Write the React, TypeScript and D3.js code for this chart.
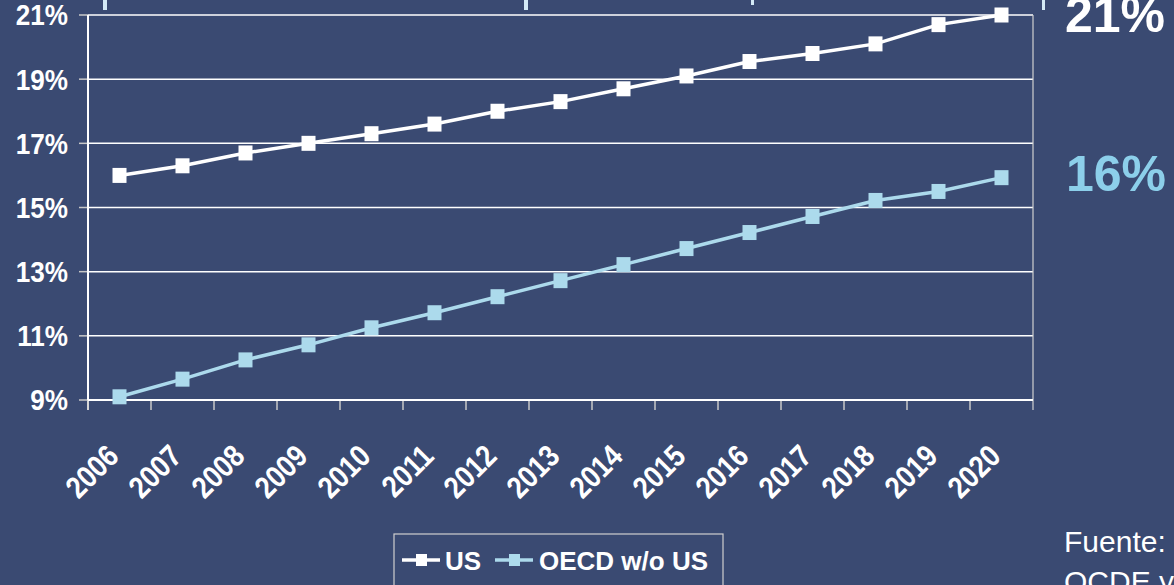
import React from 'react';
import * as d3 from 'd3';

const years = ['2006','2007','2008','2009','2010','2011','2012','2013','2014','2015','2016','2017','2018','2019','2020'];
const usValues = [16.0, 16.3, 16.7, 17.0, 17.3, 17.6, 18.0, 18.3, 18.7, 19.1, 19.55, 19.8, 20.1, 20.7, 21.0];
const oecdValues = [9.1, 9.65, 10.25, 10.72, 11.25, 11.72, 12.22, 12.72, 13.22, 13.72, 14.22, 14.72, 15.22, 15.5, 15.93];
const yTicks = [9, 11, 13, 15, 17, 19, 21];
const seriesNames = ['US', 'OECD w/o US'];
const endLabels = ['21%', '16%'];
const sourceLines = ['Fuente:', 'OCDE y CMS'];
const topFragments = [
  { x: 103, w: 4, h: 10 },
  { x: 524, w: 4, h: 10 },
  { x: 751, w: 3, h: 5 },
  { x: 1042, w: 3, h: 10 },
];

const BG = '#3a4a72';
const US_COLOR = '#ffffff';
const OECD_COLOR = '#acdaec';
const OECD_LABEL = '#8ccfea';
const FONT = '"Liberation Sans", Arial, Helvetica, sans-serif';

export default function App() {
  const W = 1174, H = 585;
  const left = 88, right = 1033, top = 15, bottom = 400;
  const x = d3.scaleBand<string>().domain(years).range([left, right]);
  const y = d3.scaleLinear().domain([9, 21]).range([bottom, top]);
  const cx = (yr: string) => (x(yr) as number) + x.bandwidth() / 2;
  const line = d3.line<number>().x((_, i) => cx(years[i])).y(v => y(v));
  const mw = 14, mh = 15;

  const series = [
    { name: seriesNames[0], values: usValues, color: US_COLOR },
    { name: seriesNames[1], values: oecdValues, color: OECD_COLOR },
  ];

  const legendItems = [
    { name: seriesNames[0], color: US_COLOR, x0: 402, tx: 445 },
    { name: seriesNames[1], color: OECD_COLOR, x0: 495, tx: 539 },
  ];

  return (
    <svg width={W} height={H} style={{ position: 'absolute', left: 0, top: 0, display: 'block' }} fontFamily={FONT}>
      <rect x={0} y={0} width={W} height={H} fill={BG} />
      {topFragments.map((f, i) => (
        <rect key={i} x={f.x} y={0} width={f.w} height={f.h} fill="#d4eaf6" />
      ))}
      {/* gridlines */}
      {yTicks.map(t => (
        <g key={t}>
          <line x1={left} x2={right} y1={y(t)} y2={y(t)} stroke="#ffffff" strokeWidth={1.5} />
          <line x1={left - 9} x2={left} y1={y(t)} y2={y(t)} stroke="#c8c8c8" strokeWidth={1.5} />
          <text transform={`translate(68,${y(t)}) scale(0.9,1)`} dy="0.36em" textAnchor="end" fill="#ffffff" fontSize={29} fontWeight="bold">{t}%</text>
        </g>
      ))}
      {/* right border */}
      <line x1={right} x2={right} y1={top} y2={bottom + 10} stroke="#d0d0d0" strokeWidth={1.2} />
      {/* left axis */}
      <line x1={left} x2={left} y1={top} y2={bottom + 10} stroke="#ffffff" strokeWidth={2} />
      {/* x ticks */}
      {years.map(yr => (
        <line key={yr} x1={x(yr) as number} x2={x(yr) as number} y1={bottom} y2={bottom + 10} stroke="#c8c8c8" strokeWidth={1.5} />
      ))}
      <line x1={left} x2={right} y1={bottom} y2={bottom} stroke="#ffffff" strokeWidth={2} />
      {/* x labels */}
      {years.map(yr => (
        <text key={yr} transform={`translate(${cx(yr) + 1},${458}) rotate(-45) scale(0.86,1)`} textAnchor="end" fill="#ffffff" fontSize={31} fontWeight="bold">{yr}</text>
      ))}
      {/* series */}
      {series.map(s => (
        <g key={s.name}>
          <path d={line(s.values) || ''} fill="none" stroke={s.color} strokeWidth={3.5} />
          {s.values.map((v, i) => (
            <rect key={i} x={cx(years[i]) - mw / 2} y={y(v) - mh / 2} width={mw} height={mh} fill={s.color} />
          ))}
        </g>
      ))}
      {/* end labels */}
      <text x={1065} y={32} fill="#ffffff" fontSize={50} fontWeight="bold">{endLabels[0]}</text>
      <text x={1066} y={191} fill={OECD_LABEL} fontSize={50} fontWeight="bold">{endLabels[1]}</text>
      {/* legend */}
      <rect x={394} y={534} width={329} height={70} fill="none" stroke="#cfcfcf" strokeWidth={1.2} />
      {legendItems.map(l => (
        <g key={l.name}>
          <line x1={l.x0} x2={l.x0 + 38} y1={560} y2={560} stroke={l.color} strokeWidth={3.5} />
          <rect x={l.x0 + 14} y={554} width={11} height={12} fill={l.color} />
          <text x={l.tx} y={570} fill="#ffffff" fontSize={26} fontWeight="bold">{l.name}</text>
        </g>
      ))}
      {/* source */}
      <text x={1064} y={552} fill="#ffffff" fontSize={30}>{sourceLines[0]}</text>
      <text x={1064} y={592} fill="#ffffff" fontSize={30}>{sourceLines[1]}</text>
    </svg>
  );
}
